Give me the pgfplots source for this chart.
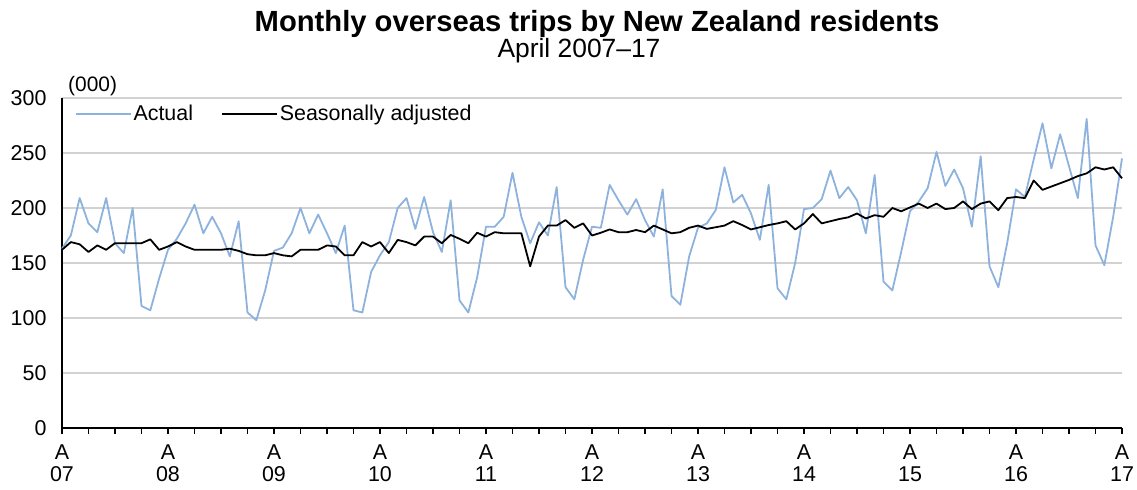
\documentclass[border=0pt]{standalone}
\usepackage{fontspec}
\setmainfont{Liberation Sans}
\usepackage{pgfplots}
\pgfplotsset{compat=1.18}
\definecolor{actualblue}{RGB}{141,178,221}
\definecolor{gridgray}{RGB}{210,210,210}
\newcommand{\xl}[1]{\rule{0pt}{22bp}A\\#1}
\begin{document}
\begin{tikzpicture}
\begin{axis}[
  scale only axis, width=1060bp, height=330bp,
  xmin=0, xmax=120, ymin=0, ymax=300,
  axis x line=bottom, axis y line=left,
  axis line style={-, line width=1.6bp, black},
  xtick={0,12,...,120},
  xticklabels={{\xl{07}},{\xl{08}},{\xl{09}},{\xl{10}},{\xl{11}},{\xl{12}},{\xl{13}},{\xl{14}},{\xl{15}},{\xl{16}},{\xl{17}}},
  minor xtick={3,6,...,120},
  tick align=outside,
  major tick length=6bp, minor tick length=6bp,
  every tick/.style={line width=1.3bp, black},
  ytick={0,50,...,300},
  ytick style={draw=none},
  ymajorgrids,
  major grid style={line width=1.5bp, gridgray},
  /pgf/number format/assume math mode=true,
  ticklabel style={font=\fontsize{21.5}{22}\selectfont},
  xticklabel style={align=center},
  yticklabel style={xshift=-6bp},
  legend style={at={(0.009,0.952)}, anchor=west, draw=none, fill=none,
    font=\fontsize{21.5}{24}\selectfont, legend columns=2,
    /tikz/every even column/.append style={column sep=26bp}},
  legend cell align=left,
  legend image code/.code={\draw[#1] (0bp,0bp) -- (55bp,0bp);},
  clip=false,
]
\addplot[actualblue, line width=1.8bp, line join=round] coordinates {
(0,163)(1,175)(2,209)(3,186)(4,178)(5,209)(6,168)(7,159)(8,200)(9,111)(10,107)(11,136)
(12,162)(13,172)(14,186)(15,203)(16,177)(17,192)(18,177)(19,156)(20,188)(21,105)(22,98)(23,125)
(24,161)(25,164)(26,177)(27,200)(28,177)(29,194)(30,177)(31,159)(32,184)(33,107)(34,105)(35,142)
(36,157)(37,169)(38,200)(39,209)(40,181)(41,210)(42,178)(43,160)(44,207)(45,116)(46,105)(47,137)
(48,183)(49,183)(50,192)(51,232)(52,192)(53,168)(54,187)(55,175)(56,219)(57,128)(58,117)(59,153)
(60,183)(61,182)(62,221)(63,207)(64,194)(65,208)(66,189)(67,174)(68,217)(69,120)(70,112)(71,156)
(72,182)(73,186)(74,198)(75,237)(76,205)(77,212)(78,195)(79,171)(80,221)(81,127)(82,117)(83,150)
(84,199)(85,200)(86,208)(87,234)(88,209)(89,219)(90,207)(91,177)(92,230)(93,133)(94,125)(95,160)
(96,197)(97,206)(98,218)(99,251)(100,220)(101,235)(102,218)(103,183)(104,247)(105,147)(106,128)(107,168)
(108,217)(109,210)(110,244)(111,277)(112,236)(113,267)(114,238)(115,209)(116,281)(117,166)(118,148)(119,192)
(120,245)
};
\addlegendentry{Actual}
\addplot[black, line width=1.8bp, line join=round] coordinates {
(0,162)(1,169)(2,167)(3,160)(4,166)(5,162)(6,168)(7,168)(8,168)(9,168)(10,171.5)(11,162)
(12,165)(13,169)(14,165)(15,162)(16,162)(17,162)(18,162)(19,163)(20,161)(21,158)(22,157)(23,157)
(24,159)(25,157)(26,156)(27,162)(28,162)(29,162)(30,166)(31,165)(32,157)(33,157)(34,169)(35,165)
(36,169)(37,159)(38,171)(39,169)(40,166)(41,174)(42,174)(43,168)(44,175.5)(45,172)(46,168)(47,177.5)
(48,174)(49,178)(50,177)(51,177)(52,177)(53,147)(54,174)(55,184)(56,184)(57,189)(58,182)(59,186)
(60,175)(61,177.5)(62,180.5)(63,178)(64,178)(65,180)(66,178)(67,184)(68,180.5)(69,177)(70,178)(71,182)
(72,184)(73,181)(74,182.5)(75,184)(76,188)(77,184.5)(78,180.5)(79,182.5)(80,184.5)(81,186)(82,188)(83,180.5)
(84,186)(85,194.5)(86,186)(87,188)(88,190)(89,191.5)(90,195)(91,190.5)(92,193.5)(93,192)(94,200)(95,197)
(96,200.5)(97,204)(98,200)(99,204)(100,199)(101,200)(102,206)(103,199)(104,204)(105,206)(106,198)(107,209)
(108,210)(109,209)(110,225)(111,216.5)(112,219.5)(113,222.5)(114,225.5)(115,229)(116,231.5)(117,237)(118,235)(119,237)
(120,227)
};
\addlegendentry{Seasonally adjusted}
\node[anchor=base,font=\bfseries\fontsize{29.3}{34}\selectfont] at (rel axis cs:0.504717,1.200000) {Monthly overseas trips by New Zealand residents};
\node[anchor=base,font=\fontsize{26.5}{31}\selectfont] at (rel axis cs:0.487736,1.121212) {April 2007--17};
\node[anchor=base west,inner sep=0pt,font=\fontsize{21}{24}\selectfont] at (rel axis cs:0.0056604,1.018182) {(000)};
\coordinate (BL) at (rel axis cs:-0.0584906,-0.1878788);
\coordinate (TR) at (rel axis cs:1.0141509,1.2969697);
\end{axis}
\pgfresetboundingbox
\path[use as bounding box] (BL) rectangle (TR);
\end{tikzpicture}
\end{document}
